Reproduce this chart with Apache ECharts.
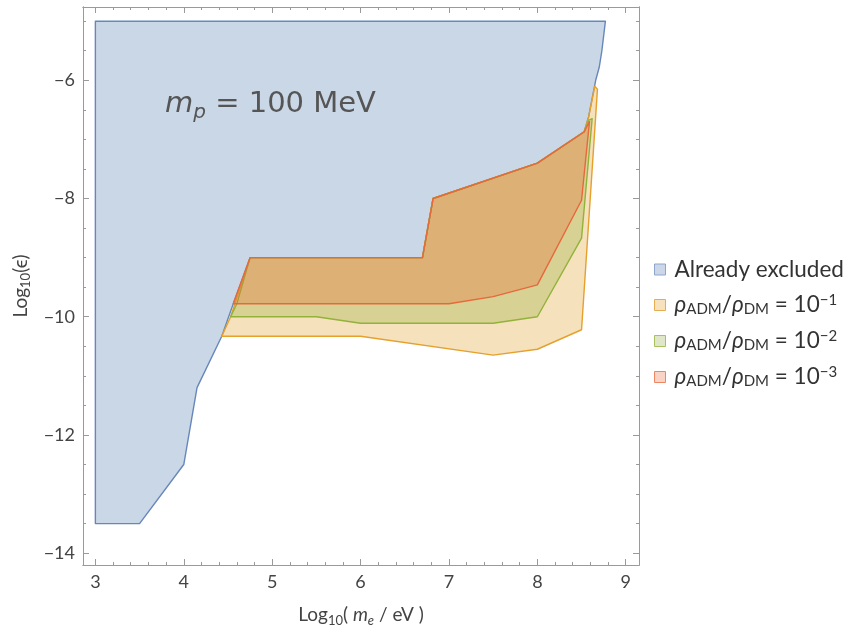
<!DOCTYPE html>
<html>
<head>
<meta charset="utf-8">
<script src="https://cdn.jsdelivr.net/npm/echarts@6/dist/echarts.min.js"></script>
<style>
  html, body { margin: 0; padding: 0; background: #fff; }
  #chart { width: 850px; height: 631px; }
</style>
</head>
<body>
<div id="chart"></div>
<script>
// tick labels
const xTicks = [3, 4, 5, 6, 7, 8, 9];
const yTicks = [-14, -12, -10, -8, -6];

// polygons, [log10(m_e/eV), log10(eps)]
const excluded = [[3, -13.5], [3, -5], [8.77, -5], [8.73, -5.5], [8.7, -5.78], [8.66, -6], [8.58, -6.62],
  [8.53, -6.87], [8, -7.4], [6.82, -8], [6.7, -9], [4.75, -9], [4.56, -9.78], [4.43, -10.33],
  [4.15, -11.2], [4, -12.5], [3.5, -13.5]];
const ratio1 = [[4.43, -10.33], [6, -10.33], [7.5, -10.65], [8, -10.55], [8.5, -10.22], [8.68, -6.15],
  [8.65, -6.1], [8.58, -6.62], [8.53, -6.87], [8, -7.4], [6.82, -8], [6.7, -9], [4.75, -9], [4.53, -10]];
const ratio2 = [[4.53, -10], [5.5, -10], [6, -10.11], [7.5, -10.11], [8, -10], [8.5, -8.67], [8.62, -6.65],
  [8.58, -6.68], [8.53, -6.87], [8, -7.4], [6.82, -8], [6.7, -9], [4.75, -9], [4.6, -9.78]];
const ratio3 = [[4.56, -9.78], [4.75, -9], [6.7, -9], [6.82, -8], [8, -7.4], [8.53, -6.87], [8.59, -6.7],
  [8.5, -8.03], [8, -9.46], [7.5, -9.66], [7, -9.78]];

const names = ['Already excluded', 'ratio1', 'ratio2', 'ratio3'];
const legendText = {
  'Already excluded': '{g|}{t|Already excluded}',
  ratio1: '{g|}{i|ρ}{s|ADM}{t|/}{i|ρ}{s|DM}{t| = 10}{p|−1}',
  ratio2: '{g|}{i|ρ}{s|ADM}{t|/}{i|ρ}{s|DM}{t| = 10}{p|−2}',
  ratio3: '{g|}{i|ρ}{s|ADM}{t|/}{i|ρ}{s|DM}{t| = 10}{p|−3}'
};

const FONT = 'Lato';
const frameColor = '#9a9a9a';

let xMinor = [], yMinor = [];
for (let v = 3; v <= 9.001; v += 0.2) xMinor.push(+v.toFixed(1));
for (let v = -14; v <= -5; v += 0.5) yMinor.push(v);

function minus(v) { return v < 0 ? '−' + Math.abs(v) : String(v); }

function frameAxis(pos, min, max, ticks, len, labels) {
  return {
    type: 'value', position: pos, min: min, max: max,
    axisLine: { show: true, onZero: false, lineStyle: { color: frameColor, width: 1 } },
    axisTick: { show: true, inside: true, length: len, customValues: ticks, lineStyle: { color: frameColor } },
    axisLabel: labels ? {
      customValues: ticks, formatter: minus, color: '#444', fontSize: 18, fontFamily: FONT, margin: 8
    } : { show: false },
    splitLine: { show: false }
  };
}

function poly(name, pts, stroke, fill) {
  return {
    type: 'custom', name: name, data: pts, silent: true,
    encode: { x: 0, y: 1 },
    itemStyle: { color: fill, borderColor: stroke },
    renderItem: function (params, api) {
      if (params.dataIndex !== 0) return null;
      return {
        type: 'polygon',
        shape: { points: pts.map(p => api.coord(p)) },
        style: { fill: fill, stroke: stroke, lineWidth: 1.4, lineJoin: 'round' }
      };
    }
  };
}

const xMin = 2.86, xMax = 9.15, yMin = -14.2, yMax = -4.76;

const xBottom = frameAxis('bottom', xMin, xMax, xTicks, 6, true);
xBottom.name = '{t|Log}{s|10}{t|( }{i|m}{is|e}{t| / eV )}';
xBottom.nameLocation = 'middle';
xBottom.nameGap = 38;
xBottom.nameTextStyle = {
  rich: {
    t: { fontSize: 19, fontFamily: FONT, color: '#444', lineHeight: 24 },
    i: { fontSize: 19, fontFamily: FONT, fontStyle: 'italic', color: '#444', lineHeight: 24 },
    s: { fontSize: 13, fontFamily: FONT, color: '#444', verticalAlign: 'bottom', lineHeight: 14 },
    is: { fontSize: 13, fontFamily: FONT, fontStyle: 'italic', color: '#444', verticalAlign: 'bottom', lineHeight: 14 }
  }
};
const yLeft = frameAxis('left', yMin, yMax, yTicks, 6, true);
yLeft.name = '{t|Log}{s|10}{t|(ϵ)}';
yLeft.nameLocation = 'middle';
yLeft.nameGap = 48;
yLeft.nameRotate = 90;
yLeft.nameTextStyle = xBottom.nameTextStyle;

const chart = echarts.init(document.getElementById('chart'));
chart.setOption({
  animation: false,
  backgroundColor: '#fff',
  grid: { left: 83, top: 7, right: 211, bottom: 66, containLabel: false, outerBoundsMode: 'none' },
  xAxis: [
    xBottom,
    frameAxis('bottom', xMin, xMax, xMinor, 3, false),
    frameAxis('top', xMin, xMax, xTicks, 6, false),
    frameAxis('top', xMin, xMax, xMinor, 3, false)
  ],
  yAxis: [
    yLeft,
    frameAxis('left', yMin, yMax, yMinor, 3, false),
    frameAxis('right', yMin, yMax, yTicks, 6, false),
    frameAxis('right', yMin, yMax, yMinor, 3, false)
  ],
  legend: {
    orient: 'vertical', left: 649, top: 253, itemGap: 12,
    itemWidth: 11, itemHeight: 11, icon: 'rect',
    data: [
      { name: names[0], itemStyle: { color: '#cbd7e8', borderColor: '#8ea6cc', borderWidth: 1 } },
      { name: names[1], itemStyle: { color: '#f7e2bd', borderColor: '#e5ad52', borderWidth: 1 } },
      { name: names[2], itemStyle: { color: '#dfe7c8', borderColor: '#a9c25e', borderWidth: 1 } },
      { name: names[3], itemStyle: { color: '#f9d3c6', borderColor: '#ee8661', borderWidth: 1 } }
    ],
    formatter: n => legendText[n],
    textStyle: {
      rich: {
        g: { width: 4, lineHeight: 24 },
        t: { fontSize: 22.5, fontFamily: FONT, color: '#333', lineHeight: 24 },
        i: { fontSize: 22.5, fontFamily: FONT, fontStyle: 'italic', color: '#333', lineHeight: 24 },
        s: { fontSize: 15, fontFamily: FONT, color: '#333', verticalAlign: 'bottom', lineHeight: 15 },
        p: { fontSize: 15, fontFamily: FONT, color: '#333', verticalAlign: 'top', lineHeight: 15 }
      }
    }
  },
  graphic: [{
    type: 'text', left: 165, top: 90, silent: true, z: 100,
    style: {
      text: '{i|m}{s|p}{t| = 100 MeV}',
      rich: {
        t: { fontSize: 29, fontFamily: 'DejaVu Sans', fill: '#555', lineHeight: 36 },
        i: { fontSize: 29, fontFamily: 'DejaVu Sans', fontStyle: 'italic', fill: '#555', lineHeight: 36 },
        s: { fontSize: 20, fontFamily: 'DejaVu Sans', fontStyle: 'italic', fill: '#555', verticalAlign: 'bottom', lineHeight: 20 }
      }
    }
  }],
  series: [
    poly(names[0], excluded, '#6787bb', '#cad7e7'),
    poly(names[1], ratio1, '#e6a02c', 'rgba(225,156,36,0.3)'),
    poly(names[2], ratio2, '#93b23a', 'rgba(143,176,50,0.3)'),
    poly(names[3], ratio3, '#e8683c', 'rgba(235,98,53,0.3)')
  ]
});
</script>
</body>
</html>
